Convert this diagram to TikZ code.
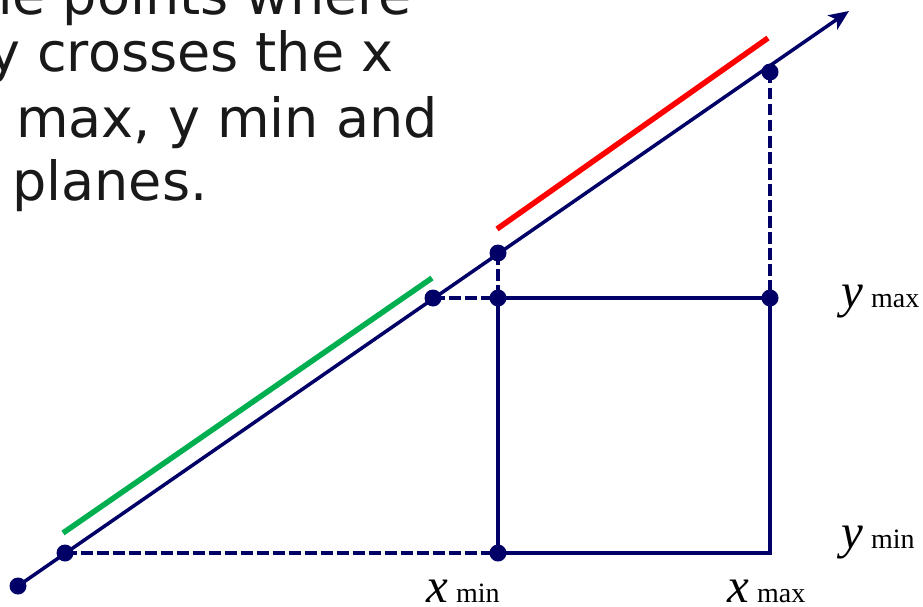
\documentclass[tikz,border=0pt]{standalone}
\usepackage{fontspec}
\setmainfont{Liberation Serif}
\newfontfamily\slidefont{DejaVu Sans}
\usepackage{xcolor}
\usetikzlibrary{positioning,arrows.meta}
\definecolor{navy}{RGB}{0,0,102}
\definecolor{okgreen}{RGB}{0,176,80}

\begin{document}
\begin{tikzpicture}[
    x=1pt,y=-1pt,
    dot/.style={circle,fill=navy,inner sep=0pt,minimum size=17pt},
    ray/.style={-{Stealth[length=20pt,width=17pt,inset=5pt]},navy,line width=3.5pt},
    edge/.style={navy,line width=3.5pt},
    dashedge/.style={navy,line width=4pt,dash pattern=on 11.5pt off 4.5pt},
    seg/.style={line width=5.5pt},
    txt/.style={font=\slidefont\fontsize{54}{63}\selectfont,color=black!90,anchor=base west,inner sep=0pt},
    lab/.style={font=\fontsize{49}{49}\selectfont,anchor=base west,inner sep=0pt}
  ]
    \useasboundingbox (0,0) rectangle (923,607);
    \clip (0,0) rectangle (923,607);
    % text
    \node[txt] (l1) at (-43,15) {the points where};
    \node[txt] (l2) at (-12,72) {y crosses the x};
    \node[txt] (l3) at (16,137) {max, y min and};
    \node[txt] (l4) at (12,200) {planes.};
    % points
    \node[dot] (p0) at (18,586) {};
    \node[dot] (pa) at (65,553) {};
    \node[dot] (pb) at (433,298) {};
    \node[dot] (pc) at (498,253) {};
    \node[dot] (pd) at (770,72) {};
    \node[dot] (tl) at (498,298) {};
    \node[dot] (tr) at (770,298) {};
    \node[dot] (bl) at (498,553) {};
    \coordinate (br) at (770,553);
    \coordinate (tip) at (849,11);
    \coordinate (g0) at (63,533);
    \coordinate (g1) at (432,278);
    \coordinate (r0) at (497,229);
    \coordinate (r1) at (768,38);
    \draw[ray] (p0.center) -- (tip);
    \draw[edge] (tl.center) -- (tr.center) -- (br) -- (bl.center) -- cycle;
    \draw[dashedge] (pa.center) -- (bl.center);
    \draw[dashedge] (pb.center) -- (tl.center);
    \draw[dashedge] (pc.center) -- (tl.center);
    \draw[dashedge] (pd.center) -- (tr.center);
    \draw[seg,okgreen] (g0) -- (g1);
    \draw[seg,red] (r0) -- (r1);
    % labels
    \node[lab] (ymax) at (841,307) {\textit{y}\,{\fontsize{28}{28}\selectfont max}};
    \node[lab] (ymin) at (841,548) {\textit{y}\,{\fontsize{28}{28}\selectfont min}};
    \node[lab] (xmin) at (426,602) {\textit{x}\,{\fontsize{28}{28}\selectfont min}};
    \node[lab] (xmax) at (727,602) {\textit{x}\,{\fontsize{28}{28}\selectfont max}};
  \end{tikzpicture}
\end{document}
